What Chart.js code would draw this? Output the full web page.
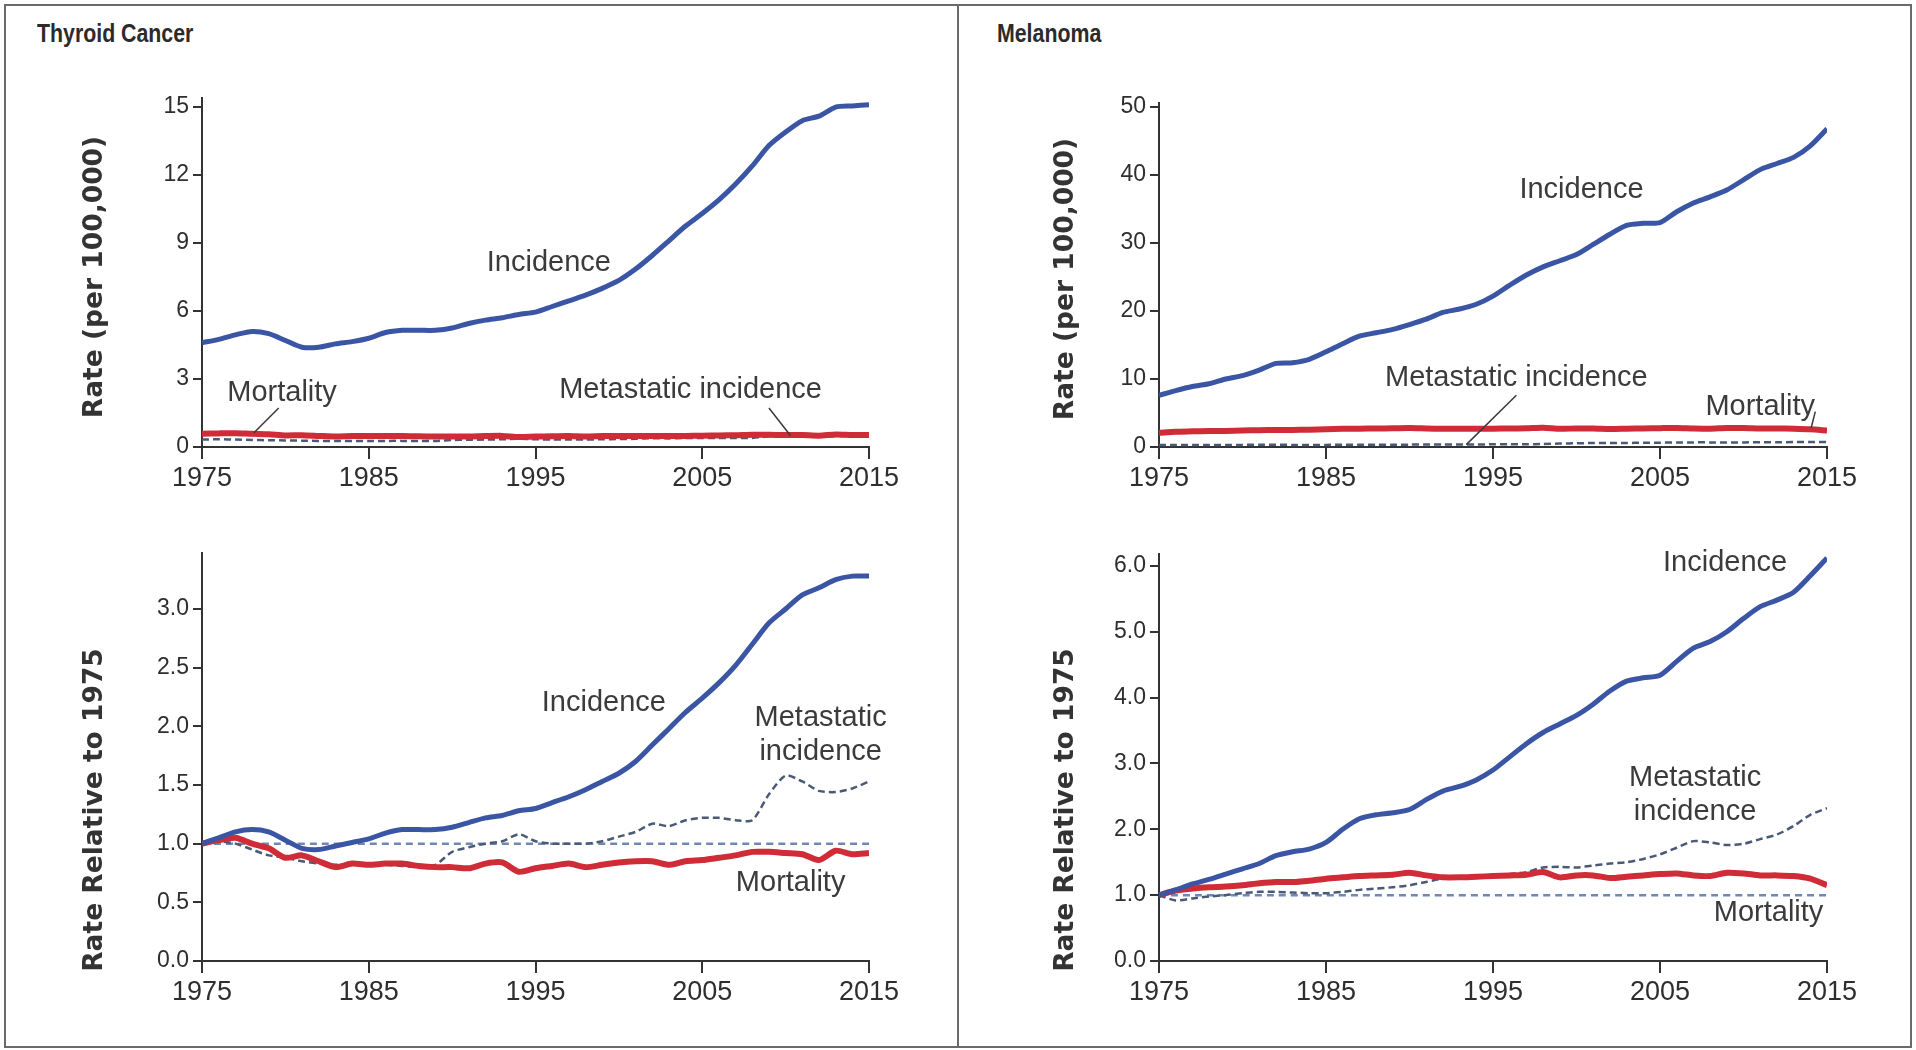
<!DOCTYPE html>
<html>
<head>
<meta charset="utf-8">
<script src="https://cdn.jsdelivr.net/npm/chart.js@4.4.1/dist/chart.umd.min.js"></script>
<style>
html,body{margin:0;padding:0;background:#fff;width:1916px;height:1050px;overflow:hidden;}
.wrap{position:absolute;}
.frame{position:absolute;left:4px;top:4px;width:1904px;height:1040px;border:2px solid #6a6a6a;}
.divider{position:absolute;left:957px;top:4px;width:2px;height:1044px;background:#6a6a6a;}
.ptitle{position:absolute;font:bold 26px "Liberation Sans",Arial,sans-serif;color:#2b2b2b;line-height:32px;white-space:nowrap;transform:scaleX(0.82);transform-origin:left center;}
.ytitle{position:absolute;font:bold 26.5px "DejaVu Sans",Verdana,sans-serif;color:#333;white-space:nowrap;line-height:32px;transform:translate(-50%,-50%) rotate(-90deg);}
</style>
</head>
<body>
<div class="wrap" style="left:0;top:60px;"><canvas id="tl" width="957" height="470"></canvas></div>
<div class="wrap" style="left:959px;top:60px;"><canvas id="tr" width="957" height="470"></canvas></div>
<div class="wrap" style="left:0;top:530px;"><canvas id="bl" width="957" height="520"></canvas></div>
<div class="wrap" style="left:959px;top:530px;"><canvas id="br" width="957" height="520"></canvas></div>

<div class="ptitle" style="left:37px;top:17px;">Thyroid Cancer</div>
<div class="ptitle" style="left:997px;top:17px;">Melanoma</div>
<div class="ytitle" style="left:93px;top:277px;">Rate (per 100,000)</div>
<div class="ytitle" style="left:93px;top:810px;">Rate Relative to 1975</div>
<div class="ytitle" style="left:1064px;top:279px;">Rate (per 100,000)</div>
<div class="ytitle" style="left:1064px;top:810px;">Rate Relative to 1975</div>
<div class="frame"></div>
<div class="divider"></div>

<script>
// ---------- data ----------
const years = [1975,1976,1977,1978,1979,1980,1981,1982,1983,1984,1985,1986,1987,1988,1989,1990,1991,1992,1993,1994,1995,1996,1997,1998,1999,2000,2001,2002,2003,2004,2005,2006,2007,2008,2009,2010,2011,2012,2013,2014,2015];
const xTickLabels = [1975,1985,1995,2005,2015];

// Thyroid cancer, rate per 100,000
const thyroidIncidence = [4.6,4.75,4.95,5.1,5.0,4.7,4.4,4.4,4.55,4.65,4.8,5.05,5.15,5.15,5.15,5.25,5.45,5.6,5.7,5.85,5.95,6.2,6.45,6.7,7.0,7.35,7.85,8.45,9.1,9.75,10.3,10.9,11.6,12.4,13.3,13.9,14.4,14.6,15.0,15.05,15.1];
const thyroidMortality = [0.58,0.6,0.61,0.58,0.56,0.51,0.52,0.49,0.46,0.48,0.48,0.48,0.48,0.47,0.46,0.46,0.46,0.48,0.49,0.44,0.46,0.47,0.48,0.46,0.48,0.49,0.49,0.49,0.48,0.49,0.5,0.51,0.52,0.54,0.54,0.53,0.53,0.5,0.55,0.53,0.53];
const thyroidMetastatic = [0.33,0.34,0.33,0.31,0.3,0.29,0.28,0.27,0.27,0.27,0.27,0.27,0.27,0.26,0.27,0.31,0.32,0.33,0.34,0.36,0.34,0.33,0.33,0.33,0.34,0.35,0.36,0.39,0.38,0.4,0.4,0.4,0.4,0.4,0.47,0.52,0.5,0.48,0.48,0.49,0.5];

// Thyroid cancer, relative to 1975
const thyroidIncidenceRel = [1.0,1.05,1.1,1.12,1.1,1.03,0.96,0.95,0.98,1.01,1.04,1.09,1.12,1.12,1.12,1.14,1.18,1.22,1.24,1.28,1.3,1.35,1.4,1.46,1.53,1.6,1.7,1.84,1.98,2.12,2.24,2.37,2.52,2.7,2.88,3.0,3.12,3.18,3.25,3.28,3.28];
const thyroidMortalityRel = [1.0,1.03,1.05,1.0,0.96,0.88,0.9,0.85,0.8,0.83,0.82,0.83,0.83,0.81,0.8,0.8,0.79,0.83,0.84,0.76,0.79,0.81,0.83,0.8,0.82,0.84,0.85,0.85,0.82,0.85,0.86,0.88,0.9,0.93,0.93,0.92,0.91,0.86,0.94,0.91,0.92];
const thyroidMetastaticRel = [1.0,1.02,1.0,0.95,0.9,0.88,0.85,0.83,0.82,0.83,0.82,0.82,0.81,0.8,0.82,0.93,0.97,1.0,1.02,1.08,1.02,1.0,1.0,1.0,1.02,1.06,1.1,1.17,1.15,1.2,1.22,1.22,1.2,1.2,1.42,1.58,1.53,1.45,1.44,1.47,1.53];

// Melanoma, rate per 100,000
const melanomaIncidence = [7.6,8.3,8.9,9.3,10.0,10.5,11.3,12.3,12.4,12.9,14.0,15.2,16.3,16.8,17.3,18.0,18.8,19.8,20.3,21.0,22.2,23.8,25.3,26.5,27.4,28.3,29.8,31.3,32.6,32.9,33.0,34.6,35.9,36.8,37.8,39.3,40.8,41.7,42.6,44.3,46.8];
const melanomaMortality = [2.1,2.25,2.3,2.35,2.37,2.42,2.48,2.5,2.5,2.55,2.62,2.67,2.7,2.73,2.75,2.8,2.73,2.67,2.67,2.69,2.7,2.73,2.75,2.83,2.67,2.73,2.73,2.65,2.69,2.73,2.77,2.8,2.73,2.7,2.8,2.8,2.73,2.73,2.7,2.62,2.42];
const melanomaMetastatic = [0.3,0.28,0.29,0.29,0.3,0.31,0.32,0.32,0.31,0.31,0.31,0.32,0.32,0.33,0.34,0.35,0.36,0.38,0.38,0.38,0.39,0.4,0.41,0.43,0.5,0.55,0.58,0.6,0.6,0.62,0.64,0.66,0.68,0.68,0.68,0.68,0.7,0.7,0.72,0.72,0.72];

// Melanoma, relative to 1975
const melanomaIncidenceRel = [1.0,1.08,1.17,1.24,1.32,1.4,1.48,1.6,1.66,1.7,1.8,2.0,2.16,2.22,2.25,2.3,2.45,2.58,2.65,2.75,2.9,3.1,3.3,3.47,3.6,3.73,3.9,4.1,4.25,4.3,4.34,4.55,4.75,4.85,5.0,5.2,5.38,5.48,5.6,5.85,6.12];
const melanomaMortalityRel = [1.0,1.07,1.1,1.12,1.13,1.15,1.18,1.2,1.2,1.22,1.25,1.27,1.29,1.3,1.31,1.34,1.3,1.27,1.27,1.28,1.29,1.3,1.31,1.35,1.27,1.3,1.3,1.26,1.28,1.3,1.32,1.33,1.3,1.29,1.34,1.33,1.3,1.3,1.29,1.25,1.15];
const melanomaMetastaticRel = [1.0,0.92,0.95,0.98,1.0,1.03,1.05,1.05,1.04,1.03,1.03,1.05,1.08,1.1,1.12,1.15,1.2,1.25,1.25,1.27,1.3,1.32,1.35,1.42,1.43,1.42,1.45,1.48,1.5,1.55,1.62,1.72,1.82,1.8,1.76,1.78,1.85,1.92,2.05,2.22,2.32];

// reference level (rate equal to 1975)
const baselineYears = [1975,2015];
const baselineValues = [1.0,1.0];

const tlTicks = [0,3,6,9,12,15];
const trTicks = [0,10,20,30,40,50];
const blTicks = [0.0,0.5,1.0,1.5,2.0,2.5,3.0];
const brTicks = [0.0,1.0,2.0,3.0,4.0,5.0,6.0];

// ---------- styling ----------
const FONT = '"Liberation Sans", Arial, sans-serif';
const AXIS = '#333333';
const BLUE = '#3a55a3';
const RED = '#cf2c37';
const DASH = '#4a5a76';
const REF = '#7088b3';

const annotPlugin = {
  id: 'annot',
  afterDatasetsDraw(chart, args, opts) {
    const ctx = chart.ctx, xs = chart.scales.x, ys = chart.scales.y;
    ctx.save();
    ctx.strokeStyle = '#3a3a3a';
    ctx.lineWidth = 1.5;
    (opts.leaders || []).forEach(l => {
      ctx.beginPath();
      ctx.moveTo(xs.getPixelForValue(l[0]), ys.getPixelForValue(l[1]));
      ctx.lineTo(xs.getPixelForValue(l[2]), ys.getPixelForValue(l[3]));
      ctx.stroke();
    });
    ctx.font = '29px ' + FONT;
    ctx.fillStyle = '#3b3b3b';
    ctx.textAlign = 'center';
    ctx.textBaseline = 'middle';
    (opts.texts || []).forEach(t => {
      ctx.fillText(t.text, xs.getPixelForValue(t.x), ys.getPixelForValue(t.y));
    });
    ctx.restore();
  }
};

function pts(vals, xs) {
  const xv = xs || years;
  return xv.map((yr, i) => ({x: yr, y: vals[i]}));
}

function lineSet(vals, color, width, dash, order, xs) {
  return {
    data: pts(vals, xs),
    borderColor: color,
    borderWidth: width,
    borderDash: dash || [],
    pointRadius: 0,
    tension: 0.25,
    fill: false,
    order: order,
    borderJoinStyle: 'round'
  };
}

function makeChart(id, cfg) {
  const axisGrid = (len) => ({display: true, drawOnChartArea: false, drawTicks: true, tickLength: len, color: AXIS, lineWidth: 2});
  new Chart(document.getElementById(id), {
    type: 'line',
    data: {datasets: cfg.datasets},
    plugins: [annotPlugin],
    options: {
      responsive: false,
      animation: false,
      layout: {padding: {left: 0, right: cfg.padR, top: cfg.padT, bottom: 0}},
      plugins: {legend: {display: false}, tooltip: {enabled: false}, annot: cfg.annot},
      scales: {
        x: {
          type: 'linear', min: 1975, max: 2015,
          afterBuildTicks: s => { s.ticks = xTickLabels.map(v => ({value: v})); },
          afterFit: s => { s.height = cfg.xH; },
          ticks: {color: '#2e2e2e', font: {family: FONT, size: 27}, padding: 3, maxRotation: 0, autoSkip: false, callback: v => String(v)},
          grid: axisGrid(12),
          border: {display: true, color: AXIS, width: 2}
        },
        y: {
          min: 0, max: cfg.yMax,
          afterBuildTicks: s => { s.ticks = cfg.yTicks.map(v => ({value: v})); },
          afterFit: s => { s.width = cfg.yW; },
          ticks: {color: '#2e2e2e', font: {family: FONT, size: 23}, padding: 4, autoSkip: false, callback: v => cfg.fmt(v)},
          grid: axisGrid(9),
          border: {display: true, color: AXIS, width: 2}
        }
      }
    }
  });
}

makeChart('tl', {
  yMax: 15.4, yTicks: tlTicks, fmt: v => String(v), yW: 202, padR: 88, padT: 38, xH: 83,
  datasets: [
    lineSet(thyroidIncidence, BLUE, 5, null, 0),
    lineSet(thyroidMortality, RED, 6, null, 1),
    lineSet(thyroidMetastatic, DASH, 2.5, [7, 4], 2)
  ],
  annot: {
    texts: [
      {text: 'Incidence', x: 1995.8, y: 8.12},
      {text: 'Mortality', x: 1979.8, y: 2.38},
      {text: 'Metastatic incidence', x: 2004.3, y: 2.5}
    ],
    leaders: [[1979.6, 1.72, 1978.1, 0.62], [2009.0, 1.72, 2010.3, 0.5]]
  }
});

makeChart('tr', {
  yMax: 50.6, yTicks: trTicks, fmt: v => String(v), yW: 200, padR: 89, padT: 43, xH: 83,
  datasets: [
    lineSet(melanomaIncidence, BLUE, 5, null, 0),
    lineSet(melanomaMortality, RED, 6, null, 1),
    lineSet(melanomaMetastatic, DASH, 2.5, [7, 4], 2)
  ],
  annot: {
    texts: [
      {text: 'Incidence', x: 2000.3, y: 37.8},
      {text: 'Metastatic incidence', x: 1996.4, y: 10.1},
      {text: 'Mortality', x: 2011.0, y: 5.9}
    ],
    leaders: [[1996.4, 7.6, 1993.4, 0.35], [2014.3, 5.2, 2014.05, 2.8]]
  }
});

makeChart('bl', {
  yMax: 3.477, yTicks: blTicks, fmt: v => v.toFixed(1), yW: 202, padR: 88, padT: 23, xH: 89,
  datasets: [
    lineSet(thyroidIncidenceRel, BLUE, 5, null, 0),
    lineSet(thyroidMortalityRel, RED, 6, null, 1),
    lineSet(thyroidMetastaticRel, DASH, 2.5, [7, 4], 2),
    lineSet(baselineValues, REF, 2.5, [7, 5], 3, baselineYears)
  ],
  annot: {
    texts: [
      {text: 'Incidence', x: 1999.1, y: 2.2},
      {text: 'Metastatic', x: 2012.1, y: 2.07},
      {text: 'incidence', x: 2012.1, y: 1.78},
      {text: 'Mortality', x: 2010.3, y: 0.665}
    ]
  }
});

makeChart('br', {
  yMax: 6.18, yTicks: brTicks, fmt: v => v.toFixed(1), yW: 200, padR: 89, padT: 24, xH: 89,
  datasets: [
    lineSet(melanomaIncidenceRel, BLUE, 5, null, 0),
    lineSet(melanomaMortalityRel, RED, 6, null, 1),
    lineSet(melanomaMetastaticRel, DASH, 2.5, [7, 4], 2),
    lineSet(baselineValues, REF, 2.5, [7, 5], 3, baselineYears)
  ],
  annot: {
    texts: [
      {text: 'Incidence', x: 2008.9, y: 6.05},
      {text: 'Metastatic', x: 2007.1, y: 2.78},
      {text: 'incidence', x: 2007.1, y: 2.26},
      {text: 'Mortality', x: 2011.5, y: 0.73}
    ]
  }
});
</script>
</body>
</html>
